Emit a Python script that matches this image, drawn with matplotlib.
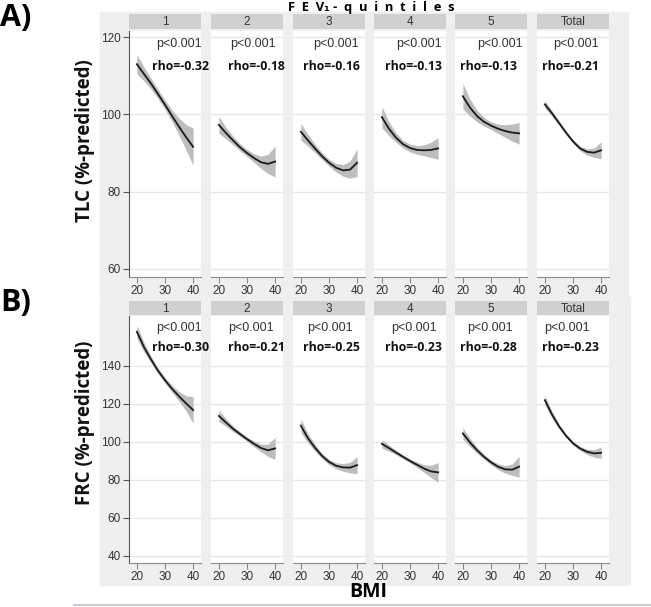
import numpy as np
import matplotlib
matplotlib.use("Agg")
import matplotlib.pyplot as plt
from matplotlib.patches import Rectangle

# data
bmi = [20, 22.5, 25, 27.5, 30, 32.5, 35, 37.5, 40]
groups = ["1", "2", "3", "4", "5", "Total"]

tlc_fit = [
    [113.0, 110.5, 108.0, 105.3, 102.5, 99.6, 96.8, 94.1, 91.6],
    [97.3, 95.2, 93.3, 91.5, 90.0, 88.7, 87.6, 87.2, 87.8],
    [95.5, 93.3, 91.2, 89.2, 87.5, 86.2, 85.5, 85.7, 87.5],
    [99.3, 96.3, 94.0, 92.3, 91.3, 90.8, 90.7, 90.8, 91.2],
    [104.7, 101.8, 99.6, 98.1, 97.1, 96.3, 95.7, 95.3, 95.1],
    [102.6, 100.3, 97.8, 95.3, 93.0, 91.2, 90.3, 90.1, 90.7],
]
tlc_hw = [
    [2.5, 1.8, 1.4, 1.2, 1.2, 1.5, 2.2, 3.3, 4.8],
    [2.2, 1.5, 1.1, 0.9, 0.9, 1.1, 1.6, 2.5, 4.0],
    [2.2, 1.5, 1.1, 0.9, 0.9, 1.1, 1.5, 2.2, 3.6],
    [2.8, 1.8, 1.2, 1.0, 1.0, 1.1, 1.4, 2.0, 2.8],
    [3.3, 2.2, 1.5, 1.1, 1.0, 1.2, 1.6, 2.2, 2.8],
    [1.0, 0.7, 0.6, 0.5, 0.5, 0.6, 0.8, 1.2, 2.2],
]
tlc_rho = ["-0.32", "-0.18", "-0.16", "-0.13", "-0.13", "-0.21"]

frc_fit = [
    [158.0, 150.0, 143.5, 137.5, 132.5, 128.0, 124.0, 120.3, 116.8],
    [113.7, 110.3, 107.0, 104.2, 101.5, 99.0, 96.8, 95.6, 96.6],
    [108.6, 102.0, 97.0, 92.7, 89.5, 87.5, 86.6, 86.5, 87.8],
    [99.0, 96.8, 94.5, 92.2, 90.0, 88.0, 86.0, 84.5, 84.0],
    [104.5, 99.8, 95.7, 92.2, 89.3, 87.0, 85.6, 85.4, 87.0],
    [122.0, 114.5, 108.3, 103.3, 99.3, 96.6, 94.8, 94.0, 94.3],
]
frc_hw = [
    [3.5, 2.5, 1.8, 1.5, 1.5, 1.8, 2.5, 4.0, 7.0],
    [3.0, 2.0, 1.5, 1.2, 1.2, 1.5, 2.0, 3.2, 5.8],
    [3.5, 2.5, 1.8, 1.4, 1.4, 1.6, 2.0, 2.8, 4.5],
    [2.2, 1.6, 1.2, 1.0, 1.0, 1.4, 2.0, 3.2, 5.2],
    [3.0, 2.2, 1.6, 1.3, 1.3, 1.5, 2.0, 3.0, 5.5],
    [2.5, 1.8, 1.3, 1.0, 1.0, 1.1, 1.4, 2.0, 3.0],
]
frc_rho = ["-0.30", "-0.21", "-0.25", "-0.23", "-0.28", "-0.23"]

W, H = 651, 607
fig = plt.figure(figsize=(W / 100, H / 100), dpi=100)
fig.patch.set_facecolor("white")

def box(x0, y0, x1, y1):
    # pixel box (top-left origin) -> figure fraction
    return [x0 / W, 1 - y1 / H, (x1 - x0) / W, (y1 - y0) / H]

# gray panels behind each block
fig.patches.append(Rectangle((100 / W, 1 - 296 / H), 528 / W, 284 / H,
                             transform=fig.transFigure, color="#efefef", zorder=-10))
fig.patches.append(Rectangle((100 / W, 1 - 585 / H), 530 / W, 288 / H,
                             transform=fig.transFigure, color="#efefef", zorder=-10))
fig.lines.append(plt.Line2D([74 / W, 1], [1 - 605 / H] * 2, transform=fig.transFigure,
                            color="#b8c0cc", lw=1.2, zorder=-10))

lefts = [129, 211, 293, 374, 455, 537]
pw = 72
p_x = [[0.70, 0.58, 0.60, 0.625, 0.625, 0.535], [0.70, 0.55, 0.51, 0.55, 0.49, 0.42]]
r_x = [[0.71, 0.625, 0.53, 0.55, 0.47, 0.465], [0.71, 0.625, 0.53, 0.555, 0.465, 0.465]]

rows = [
    dict(fit=tlc_fit, hw=tlc_hw, rho=tlc_rho, top=31, bot=277, s0=14, s1=29,
         ylim=(57.9, 121.6), yt=[60, 80, 100, 120], py=0.947, ry=0.854),
    dict(fit=frc_fit, hw=frc_hw, rho=frc_rho, top=316, bot=563, s0=301, s1=315,
         ylim=(36.3, 166.3), yt=[40, 60, 80, 100, 120, 140], py=0.951, ry=0.874),
]

tick_font = "Liberation Sans"
for r, row in enumerate(rows):
    for i, g in enumerate(groups):
        x0 = lefts[i]
        ax = fig.add_axes(box(x0, row["top"], x0 + pw, row["bot"]))
        ax.set_facecolor("white")
        fit = np.array(row["fit"][i])
        hw = np.array(row["hw"][i])
        ax.fill_between(bmi, fit - hw, fit + hw, color="#bdbdbd", lw=0, zorder=2)
        ax.plot(bmi, fit, color="#1a1a1a", lw=1.3, zorder=3)
        ax.set_xlim(17.2, 42.8)
        ax.set_ylim(*row["ylim"])
        ax.set_xticks([20, 30, 40])
        ax.set_yticks(row["yt"])
        ax.yaxis.grid(True, color="#e6e6e6", lw=1)
        ax.set_axisbelow(True)
        for s in ["top", "right"]:
            ax.spines[s].set_visible(False)
        ax.spines["bottom"].set_color("#8a8a8a")
        ax.tick_params(axis="x", direction="out", length=4, color="#8a8a8a",
                       labelsize=8.5, labelcolor="#333333", pad=2)
        for lab in ax.get_xticklabels():
            lab.set_fontfamily(tick_font)
        if i == 0:
            ax.spines["left"].set_color("#555555")
            ax.tick_params(axis="y", direction="out", length=4, color="#555555",
                           labelsize=8.5, labelcolor="#333333", pad=2)
            for lab in ax.get_yticklabels():
                lab.set_fontfamily(tick_font)
        else:
            ax.spines["left"].set_visible(False)
            ax.tick_params(axis="y", length=0, labelleft=False)
        ax.text(p_x[r][i], row["py"], "p<0.001", transform=ax.transAxes, ha="center",
                va="center", fontsize=9, color="#333333", family=tick_font)
        ax.text(r_x[r][i], row["ry"], "rho=" + row["rho"][i], transform=ax.transAxes,
                ha="center", va="center", fontsize=8.8, fontweight="bold",
                color="#111111", family="Open Sans", clip_on=False)
        # strip header
        sax = fig.add_axes(box(x0, row["s0"], x0 + pw, row["s1"]))
        sax.set_facecolor("#d0d0d0")
        sax.set_xticks([])
        sax.set_yticks([])
        for s in sax.spines.values():
            s.set_visible(False)
        sax.text(0.5, 0.45, g, transform=sax.transAxes, ha="center", va="center",
                 fontsize=8.5, color="#333333", family=tick_font)

fig.text(85 / W, 1 - 141 / H, "TLC (%-predicted)", rotation=90, ha="center", va="center",
         fontsize=13.5, fontweight="bold", family="Open Sans", color="#111111")
fig.text(85 / W, 1 - 423 / H, "FRC (%-predicted)", rotation=90, ha="center", va="center",
         fontsize=13.5, fontweight="bold", family="Open Sans", color="#111111")
fig.text(0, 1 - 18 / H, "A)", ha="left", va="center", fontsize=22,
         fontweight="bold", family="Open Sans")
fig.text(0, 1 - 303 / H, "B)", ha="left", va="center", fontsize=22,
         fontweight="bold", family="Open Sans")
fig.text(368 / W, 1 - 592 / H, "BMI", ha="center", va="center", fontsize=14,
         fontweight="bold", family="Open Sans")
fig.text(371 / W, 1 - 0.5 / H, "F  E  V\u2081 -  q  u  i  n  t  i  l  e  s",
         ha="center", va="top", fontsize=9.3, fontweight="bold",
         family=["Open Sans", "DejaVu Sans"])

fig.savefig("out.png", dpi=100)
